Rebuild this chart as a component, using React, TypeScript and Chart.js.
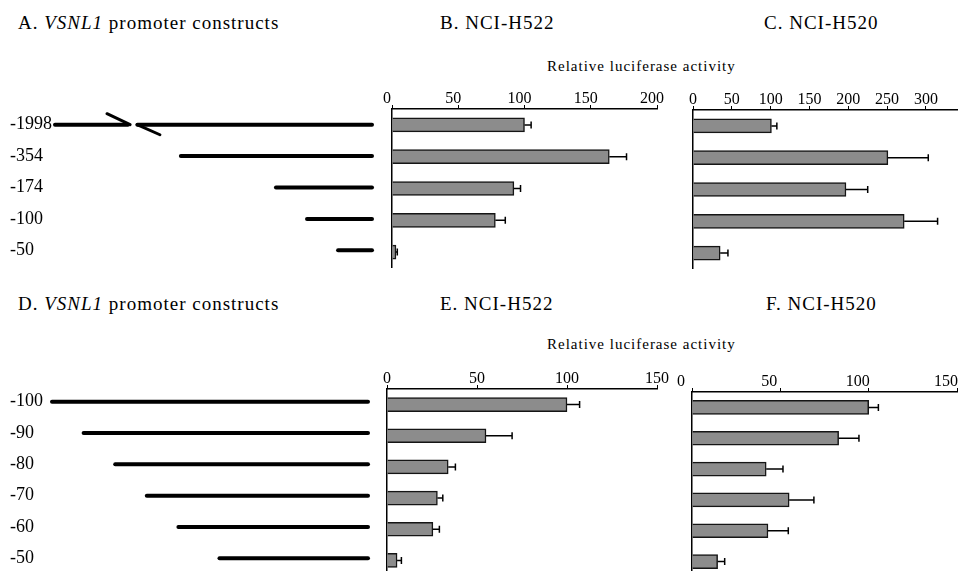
import React, { useEffect, useRef } from 'react';
import { Chart, registerables } from 'chart.js';

Chart.register(...registerables);

const FONT = "'Liberation Serif', 'Times New Roman', serif";

// ---------- data ----------
const topConstructs = ['-1998', '-354', '-174', '-100', '-50'];
// schematic start positions of each construct line as drawn (0 = common 3' end)
const topConstructStarts = [-100, -60.3, -30.3, -20.5, -10.7];
// break in the -1998 line (schematic units)
const topBreakLeftEnd = -77;
const topBreakRightStart = -74;
const breakMark1X = [-83.6, -76.3];
const breakMark1Y = [-0.35, 0];
const breakMark2X = [-74.1, -66.9];
const breakMark2Y = [0, 0.32];

const bottomConstructs = ['-100', '-90', '-80', '-70', '-60', '-50'];
const bottomConstructStarts = [-100, -90, -80, -70, -60, -47];

const h522TopValues = [100, 164, 92, 78, 3];
const h522TopErrors = [5, 13, 5, 7.5, 1];
const h522TopTicks = [0, 50, 100, 150, 200];

const h520TopValues = [101, 251, 197, 272, 35];
const h520TopErrors = [7, 52, 28, 43, 10];
const h520TopTicks = [0, 50, 100, 150, 200, 250, 300];

const h522BottomValues = [100, 55, 34, 28, 25.5, 5.6];
const h522BottomErrors = [7, 14.5, 4, 3, 3.6, 2.4];
const h522BottomTicks = [0, 50, 100, 150];

const h520BottomValues = [100, 83, 42, 55, 43, 14.5];
const h520BottomErrors = [5.5, 11.5, 9.5, 14, 11.5, 4];
const h520BottomTicks = [0, 50, 100, 150];

// ---------- plugins ----------
const errorBarPlugin = (errors: number[]) => ({
  id: 'errorBars',
  afterDatasetsDraw(chart: any) {
    const ctx = chart.ctx;
    const xs = chart.scales.x;
    const meta = chart.getDatasetMeta(0);
    const vals = chart.data.datasets[0].data as number[];
    ctx.save();
    ctx.strokeStyle = '#000';
    ctx.lineWidth = 1.5;
    meta.data.forEach((el: any, i: number) => {
      const x0 = xs.getPixelForValue(vals[i]);
      const x1 = xs.getPixelForValue(vals[i] + errors[i]);
      const y = el.y;
      ctx.beginPath();
      ctx.moveTo(x0, y);
      ctx.lineTo(x1, y);
      ctx.moveTo(x1, y - 3.5);
      ctx.lineTo(x1, y + 3.5);
      ctx.stroke();
    });
    ctx.restore();
  },
});

type Area = { left: number; top: number; width: number; height: number };

function BarPanel(props: {
  cats: string[];
  values: number[];
  errors: number[];
  ticks: number[];
  max: number;
  area: Area;
  labelOffset: number;
  barThickness: number;
}) {
  const ref = useRef<HTMLCanvasElement>(null);
  const padL = 15;
  const padR = 22;
  const axisH = 30;
  const { area } = props;
  const cw = padL + area.width + padR;
  const ch = axisH + area.height;
  useEffect(() => {
    const chart = new Chart(ref.current as HTMLCanvasElement, {
      type: 'bar',
      data: {
        labels: props.cats,
        datasets: [
          {
            data: props.values,
            backgroundColor: '#8c8c8c',
            borderColor: '#151515',
            borderWidth: 1.5,
            borderSkipped: 'start',
            barThickness: props.barThickness,
          } as any,
        ],
      },
      options: {
        indexAxis: 'y',
        responsive: false,
        animation: false,
        layout: { padding: { left: padL, right: padR, top: 0, bottom: 0 } },
        plugins: { legend: { display: false }, tooltip: { enabled: false } },
        scales: {
          x: {
            type: 'linear',
            position: 'top',
            min: 0,
            max: props.max,
            afterBuildTicks: (s: any) => {
              s.ticks = props.ticks.map((v) => ({ value: v }));
            },
            afterFit: (s: any) => {
              s.height = axisH;
            },
            ticks: {
              font: { family: FONT, size: 16 },
              color: '#000',
              padding: -3,
              labelOffset: props.labelOffset,
              maxRotation: 0,
              autoSkip: false,
            },
            grid: {
              display: true,
              drawOnChartArea: false,
              drawTicks: true,
              tickLength: 4,
              color: '#000',
              lineWidth: 1,
            },
            border: { display: true, color: '#000', width: 1.5 },
          } as any,
          y: {
            type: 'category',
            afterFit: (s: any) => {
              s.width = 0;
            },
            ticks: { display: false },
            grid: { display: false },
            border: { display: true, color: '#000', width: 1.5 },
          } as any,
        },
      },
      plugins: [errorBarPlugin(props.errors)],
    });
    return () => chart.destroy();
  }, []);
  return (
    <canvas
      ref={ref}
      width={cw}
      height={ch}
      style={{ position: 'absolute', left: area.left - padL, top: area.top - axisH, width: cw, height: ch }}
    />
  );
}

type Seg = { x: number[]; y: number[]; w: number };

function ConstructPanel(props: { labels: string[]; segs: Seg[]; area: Area; axisW: number; left: number }) {
  const ref = useRef<HTMLCanvasElement>(null);
  const padT = 15;
  const padB = 15;
  const padR = 6;
  const { area } = props;
  const cw = props.axisW + area.width + padR;
  const ch = padT + area.height + padB;
  useEffect(() => {
    const chart = new Chart(ref.current as HTMLCanvasElement, {
      type: 'scatter',
      data: {
        datasets: props.segs.map((s) => ({
          data: s.x.map((xv, i) => ({ x: xv, y: s.y[i] })),
          showLine: true,
          borderColor: '#000',
          backgroundColor: '#000',
          borderWidth: s.w,
          borderCapStyle: 'round',
          pointRadius: 0,
          clip: false,
        })) as any,
      },
      options: {
        responsive: false,
        animation: false,
        layout: { padding: { left: 0, right: padR, top: padT, bottom: padB } },
        plugins: { legend: { display: false }, tooltip: { enabled: false } },
        scales: {
          x: { type: 'linear', display: false, min: -100, max: 0 },
          y: {
            type: 'linear',
            reverse: true,
            min: -0.5,
            max: props.labels.length - 0.5,
            afterBuildTicks: (s: any) => {
              s.ticks = props.labels.map((_, i) => ({ value: i }));
            },
            afterFit: (s: any) => {
              s.width = props.axisW;
            },
            ticks: {
              callback: (v: any) => props.labels[Math.round(Number(v))],
              font: { family: FONT, size: 18 },
              color: '#000',
              crossAlign: 'far',
              padding: 0,
              autoSkip: false,
            },
            grid: { display: false },
            border: { display: false },
          } as any,
        },
      },
    });
    return () => chart.destroy();
  }, []);
  return (
    <canvas
      ref={ref}
      width={cw}
      height={ch}
      style={{ position: 'absolute', left: props.left, top: area.top - padT, width: cw, height: ch }}
    />
  );
}

function Txt(props: { x: number; cy: number; size: number; spacing?: number; children: any }) {
  return (
    <div
      style={{
        position: 'absolute',
        left: props.x,
        top: props.cy - props.size * 0.6065,
        fontSize: props.size,
        lineHeight: `${props.size * 1.2}px`,
        letterSpacing: props.spacing ?? 0,
        whiteSpace: 'nowrap',
        fontFamily: FONT,
        color: '#000',
      }}
    >
      {props.children}
    </div>
  );
}

const topSegs: Seg[] = [
  { x: [topConstructStarts[0], topBreakLeftEnd], y: [0, 0], w: 4 },
  { x: [topBreakRightStart, 0], y: [0, 0], w: 4 },
  { x: breakMark1X, y: breakMark1Y, w: 3 },
  { x: breakMark2X, y: breakMark2Y, w: 3 },
  ...topConstructStarts.slice(1).map((s, i) => ({ x: [s, 0], y: [i + 1, i + 1], w: 4 })),
];

const bottomSegs: Seg[] = bottomConstructStarts.map((s, i) => ({ x: [s, 0], y: [i, i], w: 4 }));

export default function App() {
  return (
    <div
      style={{
        position: 'fixed',
        left: 0,
        top: 0,
        width: 963,
        height: 571,
        overflow: 'hidden',
        background: '#fff',
      }}
    >
      <Txt x={18} cy={24} size={19} spacing={1}>
        A. <i>VSNL1</i> promoter constructs
      </Txt>
      <Txt x={440} cy={24} size={19} spacing={1}>
        B. NCI-H522
      </Txt>
      <Txt x={764} cy={24} size={19} spacing={1}>
        C. NCI-H520
      </Txt>
      <Txt x={547} cy={66} size={15} spacing={1}>
        Relative luciferase activity
      </Txt>

      <Txt x={18} cy={305} size={19} spacing={1}>
        D. <i>VSNL1</i> promoter constructs
      </Txt>
      <Txt x={440} cy={305} size={19} spacing={1}>
        E. NCI-H522
      </Txt>
      <Txt x={766} cy={305} size={19} spacing={1}>
        F. NCI-H520
      </Txt>
      <Txt x={547} cy={344} size={15} spacing={1}>
        Relative luciferase activity
      </Txt>

      <ConstructPanel
        labels={topConstructs}
        segs={topSegs}
        left={10}
        axisW={45}
        area={{ left: 55, top: 109, width: 317, height: 157 }}
      />
      <ConstructPanel
        labels={bottomConstructs}
        segs={bottomSegs}
        left={10}
        axisW={42}
        area={{ left: 52, top: 386, width: 316, height: 188 }}
      />

      <BarPanel
        cats={topConstructs}
        values={h522TopValues}
        errors={h522TopErrors}
        ticks={h522TopTicks}
        max={200}
        labelOffset={-5}
        barThickness={14}
        area={{ left: 392, top: 109, width: 265, height: 159 }}
      />
      <BarPanel
        cats={topConstructs}
        values={h520TopValues}
        errors={h520TopErrors}
        ticks={h520TopTicks}
        max={340}
        labelOffset={0}
        barThickness={14}
        area={{ left: 693, top: 110, width: 264, height: 159 }}
      />
      <BarPanel
        cats={bottomConstructs}
        values={h522BottomValues}
        errors={h522BottomErrors}
        ticks={h522BottomTicks}
        max={150}
        labelOffset={0}
        barThickness={14}
        area={{ left: 387, top: 389, width: 270, height: 187 }}
      />
      <BarPanel
        cats={bottomConstructs}
        values={h520BottomValues}
        errors={h520BottomErrors}
        ticks={h520BottomTicks}
        max={150}
        labelOffset={-11}
        barThickness={14}
        area={{ left: 692, top: 392, width: 265, height: 185 }}
      />
    </div>
  );
}
